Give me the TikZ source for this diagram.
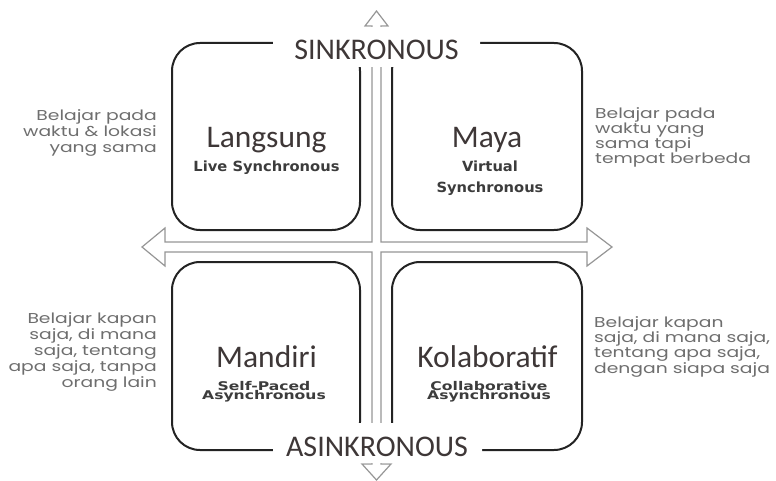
\documentclass[tikz,border=0pt]{standalone}
\usepackage{fontspec}
\newfontfamily\lblfont{Carlito}
\newfontfamily\subfont[FakeStretch=1.05]{DejaVu Sans}
\newfontfamily\subwidefont[FakeStretch=1.3]{DejaVu Sans}
\newfontfamily\sidefont[FakeStretch=1.31]{Poppins}
\definecolor{arrowgray}{RGB}{150,150,150}
\definecolor{boxline}{RGB}{35,35,35}
\definecolor{lbltext}{RGB}{62,55,55}
\definecolor{subtext}{RGB}{60,60,60}
\definecolor{sidetext}{RGB}{110,110,110}
\tikzset{
  quadbox/.style={draw=boxline, line width=2pt, rounded corners=28pt},
  crossarrow/.style={draw=arrowgray, line width=1.2pt, fill=white, line join=miter},
  axislabel/.style={font=\lblfont\fontsize{30}{32}\selectfont, text=lbltext, inner sep=0pt, anchor=base},
  mainlabel/.style={font=\lblfont\fontsize{31.5}{33}\selectfont, text=lbltext, inner sep=0pt, anchor=base},
  sublabel/.style={font=\subfont\bfseries\fontsize{14}{21}\selectfont, text=subtext, inner sep=0pt, align=center, anchor=base},
  subtight/.style={font=\subwidefont\bfseries\fontsize{12}{9.3}\selectfont, text=subtext, inner sep=0pt, align=center, anchor=base},
  sideleft/.style={font=\sidefont\fontsize{14.3}{16}\selectfont, text=sidetext, inner sep=0pt, align=right, anchor=base east},
  sideright/.style={font=\sidefont\fontsize{14.3}{15.3}\selectfont, text=sidetext, inner sep=0pt, align=left, anchor=base west},
  labelpatch/.style={fill=white, draw=none, rounded corners=6pt}
}
\begin{document}
\begin{tikzpicture}[x=1pt,y=-1pt]
\useasboundingbox (0,0) rectangle (776,481);
% four-way arrow outline
\path[crossarrow] (376.5,11) -- (388,26) -- (381,26) -- (381,242) -- (587,242) -- (587,228) -- (612,247) -- (587,266) -- (587,252) -- (381,252) -- (381,464) -- (391,464) -- (376.5,480) -- (362,464) -- (372,464) -- (372,252) -- (165,252) -- (165,266) -- (142,247) -- (165,228) -- (165,242) -- (372,242) -- (372,26) -- (365,26) -- cycle;
% quadrant boxes
\draw[quadbox] (172,43) rectangle (360,230);
\draw[quadbox] (392,43) rectangle (582,230);
\draw[quadbox] (172,262) rectangle (360,450);
\draw[quadbox] (392,262) rectangle (582,450);
% axis labels
\fill[labelpatch] (273,27) rectangle (480,67);
\fill[labelpatch] (273,423) rectangle (482,463);
\node[axislabel] (sync) at (376.5,59.5) {SINKRONOUS};
\node[axislabel] (async) at (377,456) {ASINKRONOUS};
% quadrant labels
\node[mainlabel] (lang) at (266.5,148) {Langsung};
\node[sublabel] (langsub) at (266.5,172) {Live Synchronous};
\node[mainlabel] (maya) at (487,148) {Maya};
\node[sublabel] (mayasub) at (490,193) {Virtual\\Synchronous};
\node[mainlabel] (mand) at (266.5,367) {Mandiri};
\node[subtight] (mandsub) at (264,399.3) {Self-Paced\\Asynchronous};
\node[mainlabel] (kola) at (487.5,367) {Kolaboratif};
\node[subtight] (kolasub) at (489,399.3) {Collaborative\\Asynchronous};
% side descriptions
\node[sideleft] (d1) at (157,153) {Belajar pada\\waktu \& lokasi\\yang sama};
\node[sideright] (d2) at (595,164) {Belajar pada\\waktu yang\\sama tapi\\tempat berbeda};
\node[sideleft] (d3) at (157,387) {Belajar kapan\\saja, di mana\\saja, tentang\\apa saja, tanpa\\orang lain};
\node[sideright] (d4) at (594,373) {Belajar kapan\\saja, di mana saja,\\tentang apa saja,\\dengan siapa saja};
\end{tikzpicture}
\end{document}
